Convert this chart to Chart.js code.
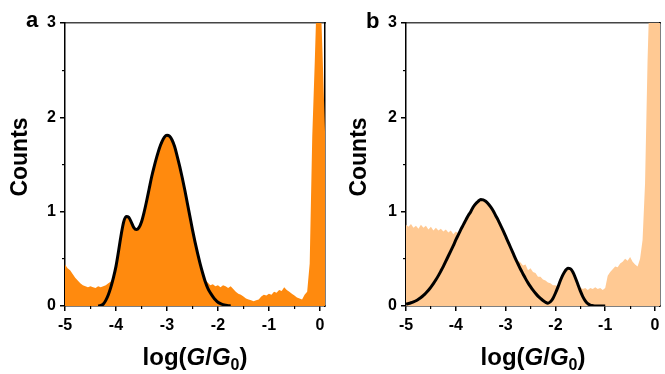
<!DOCTYPE html>
<html>
<head>
<meta charset="utf-8">
<script src="https://cdn.jsdelivr.net/npm/chart.js@4.4.1/dist/chart.umd.min.js"></script>
<style>
  html, body { margin: 0; padding: 0; background: #fff; }
  body { width: 665px; height: 374px; position: relative; overflow: hidden; }
  .panel { position: absolute; top: 0; height: 374px; }
  #wa { left: 0; width: 333px; }
  #wb { left: 333px; width: 332px; }
</style>
</head>
<body>
<div class="panel" id="wa"><canvas id="ca" width="333" height="374"></canvas></div>
<div class="panel" id="wb"><canvas id="cb" width="332" height="374"></canvas></div>
<script>
// Histogram bin positions, log(G/G0)
const logG = [
  -5.00,-4.95,-4.90,-4.85,-4.80,-4.75,-4.70,-4.65,-4.60,-4.55,
  -4.50,-4.45,-4.40,-4.35,-4.30,-4.25,-4.20,-4.15,-4.10,-4.05,
  -4.00,-3.95,-3.90,-3.85,-3.80,-3.75,-3.70,-3.65,-3.60,-3.55,
  -3.50,-3.45,-3.40,-3.35,-3.30,-3.25,-3.20,-3.15,-3.10,-3.05,
  -3.00,-2.95,-2.90,-2.85,-2.80,-2.75,-2.70,-2.65,-2.60,-2.55,
  -2.50,-2.45,-2.40,-2.35,-2.30,-2.25,-2.20,-2.15,-2.10,-2.05,
  -2.00,-1.95,-1.90,-1.85,-1.80,-1.75,-1.70,-1.65,-1.60,-1.55,
  -1.50,-1.45,-1.40,-1.35,-1.30,-1.25,-1.20,-1.15,-1.10,-1.05,
  -1.00,-0.95,-0.90,-0.85,-0.80,-0.75,-0.70,-0.65,-0.60,-0.55,
  -0.50,-0.45,-0.40,-0.35,-0.30,-0.25,-0.20,-0.15,-0.10,-0.05,
   0.00, 0.05, 0.10
];

// Panel a: histogram counts
const histA = [
  0.44,0.40,0.38,0.34,0.30,0.27,0.24,0.22,0.21,0.20,
  0.21,0.20,0.19,0.21,0.20,0.21,0.22,0.24,0.26,0.30,
  0.38,0.55,0.72,0.85,0.90,0.89,0.84,0.79,0.77,0.79,
  0.85,0.95,1.07,1.20,1.33,1.44,1.54,1.63,1.70,1.75,
  1.77,1.76,1.73,1.66,1.57,1.46,1.34,1.20,1.06,0.92,
  0.78,0.65,0.53,0.42,0.33,0.27,0.25,0.22,0.23,0.21,
  0.22,0.20,0.22,0.21,0.19,0.21,0.18,0.15,0.13,0.12,
  0.10,0.08,0.07,0.06,0.05,0.06,0.07,0.10,0.12,0.11,
  0.13,0.12,0.15,0.14,0.17,0.16,0.20,0.17,0.15,0.13,
  0.11,0.09,0.08,0.07,0.12,0.15,0.45,1.80,2.60,3.50,
  3.50,2.70,1.85
];

// Panel b: histogram counts
const histB = [
  0.86,0.84,0.87,0.83,0.85,0.82,0.86,0.83,0.85,0.81,
  0.84,0.80,0.83,0.80,0.82,0.79,0.81,0.78,0.80,0.76,
  0.79,0.77,0.78,0.82,0.87,0.92,0.97,1.01,1.05,1.07,
  1.09,1.08,1.07,1.05,1.02,0.98,0.93,0.88,0.83,0.77,
  0.72,0.67,0.62,0.56,0.52,0.48,0.46,0.43,0.44,0.38,
  0.40,0.36,0.35,0.31,0.31,0.28,0.27,0.25,0.24,0.22,
  0.22,0.21,0.22,0.20,0.21,0.19,0.20,0.19,0.20,0.18,
  0.20,0.18,0.19,0.17,0.19,0.18,0.20,0.18,0.19,0.17,
  0.19,0.32,0.36,0.39,0.42,0.41,0.45,0.47,0.50,0.48,
  0.52,0.47,0.44,0.42,0.50,0.70,1.30,2.60,3.50,3.50,
  3.50,3.50,3.50
];

// Panel a: fitted curve, log(G/G0) from -4.35 to -1.75
const fitAx = logG.slice(13, 66);
const fitAy = [
  0.00,0.005,0.02,0.06,0.12,0.20,0.30,0.42,
  0.58,0.75,0.89,0.95,0.94,0.89,0.83,0.81,0.83,0.89,
  0.99,1.11,1.24,1.37,1.48,1.58,1.67,1.74,1.79,1.81,
  1.80,1.76,1.69,1.59,1.48,1.36,1.23,1.09,0.95,0.81,
  0.68,0.56,0.45,0.35,0.26,0.19,0.14,0.10,0.065,0.04,
  0.025,0.015,0.008,0.004,0.00
];

// Panel b: fitted curve, log(G/G0) from -5.00 to -1.00
const fitBx = logG.slice(0, 81);
const fitBy = [
  0.02,0.026,0.034,0.044,0.056,0.072,0.09,0.112,0.138,0.167,
  0.20,0.237,0.278,0.322,0.37,0.42,0.475,0.53,0.585,0.64,
  0.70,0.755,0.81,0.86,0.91,0.96,1.00,1.05,1.085,1.11,
  1.13,1.125,1.11,1.085,1.05,1.01,0.96,0.91,0.855,0.80,
  0.74,0.68,0.62,0.56,0.50,0.445,0.39,0.34,0.29,0.245,
  0.205,0.168,0.135,0.105,0.08,0.058,0.04,0.03,0.045,0.08,
  0.135,0.20,0.27,0.33,0.375,0.40,0.395,0.36,0.30,0.23,
  0.16,0.10,0.055,0.025,0.01,0.004,0.0,0.0,0.0,0.0,
  0.0
];

// Axis ticks
const xMajor = [-5, -4, -3, -2, -1, 0];
const yMajor = [0, 1, 2, 3];
const xMinor = [-4.5, -3.5, -2.5, -1.5, -0.5];
const yMinor = [0.5, 1.5, 2.5];

const FONT = '"Liberation Sans", Arial, sans-serif';
const COLOR_A = '#FF8A0E';
const COLOR_B = '#FFC993';

const decorPlugin = {
  id: 'decor',
  afterDraw(chart, args, opts) {
    const ctx = chart.ctx;
    const xs = chart.scales.x;
    const left = xs.left, right = xs.right;
    ctx.save();
    ctx.fillStyle = '#000';
    // y axis title
    ctx.save();
    ctx.translate(opts.yTitleX, 157);
    ctx.rotate(-Math.PI / 2);
    ctx.font = 'bold 23px ' + FONT;
    ctx.textAlign = 'center';
    ctx.textBaseline = 'middle';
    ctx.fillText('Counts', 0, 0);
    ctx.restore();
    // x axis title with italic G and subscript 0
    const big = 'bold 24px ' + FONT;
    const bigI = 'italic bold 24px ' + FONT;
    const small = 'bold 16px ' + FONT;
    const parts = [['log(', big, 0], ['G', bigI, 0], ['/', big, 0], ['G', bigI, 0], ['0', small, 5], [')', big, 0]];
    let total = 0;
    parts.forEach(p => { ctx.font = p[1]; p.w = ctx.measureText(p[0]).width; total += p.w; });
    let x = (left + right) / 2 - total / 2;
    ctx.textAlign = 'left';
    ctx.textBaseline = 'alphabetic';
    parts.forEach(p => { ctx.font = p[1]; ctx.fillText(p[0], x, opts.titleY + p[2]); x += p.w; });
    // panel letter
    ctx.font = 'bold 22px ' + FONT;
    ctx.fillText(opts.letter, opts.lx, opts.ly);
    ctx.restore();
  }
};

function makeChart(id, hist, fitX, fitY, color, yWidth, padRight, yTitleX, letter, lx, ly) {
  const tickFont = { family: FONT, size: 16, weight: 'bold' };
  return new Chart(document.getElementById(id), {
    type: 'line',
    data: {
      datasets: [
        {
          label: 'fit',
          data: fitX.map((x, i) => ({ x: x, y: fitY[i] })),
          borderColor: '#000',
          borderWidth: 3,
          backgroundColor: color,
          fill: 'origin',
          pointRadius: 0,
          cubicInterpolationMode: 'monotone'
        },
        {
          label: 'histogram',
          data: logG.map((x, i) => ({ x: x, y: hist[i] })),
          borderWidth: 0,
          borderColor: 'rgba(0,0,0,0)',
          backgroundColor: color,
          fill: 'origin',
          pointRadius: 0,
          tension: 0,
          clip: 0
        }
      ]
    },
    options: {
      responsive: false,
      animation: false,
      events: [],
      layout: { padding: { left: 0, right: padRight, top: 23, bottom: 0 } },
      plugins: {
        legend: { display: false },
        tooltip: { enabled: false },
        decor: { letter: letter, lx: lx, ly: ly, titleY: 365, yTitleX: yTitleX }
      },
      scales: {
        x: {
          type: 'linear',
          min: -5,
          max: 0.1,
          afterFit: s => { s.height = 68; },
          afterBuildTicks: s => { s.ticks = xMajor.map(v => ({ value: v })); },
          ticks: { font: tickFont, color: '#000', padding: 5, maxRotation: 0,
                   callback: v => String(v) },
          grid: { drawOnChartArea: false, drawTicks: true, tickLength: 5, color: '#000', lineWidth: 1.5 },
          border: { display: true, color: '#000', width: 1.5 }
        },
        xMinorAxis: {
          type: 'linear',
          position: { y: 0 },
          min: -5,
          max: 0.1,
          afterFit: s => { s.height = 0; },
          afterBuildTicks: s => { s.ticks = xMinor.map(v => ({ value: v })); },
          ticks: { display: false },
          grid: { drawOnChartArea: false, drawTicks: true, tickLength: 3, color: '#000', lineWidth: 1.2 },
          border: { display: false }
        },
        xTop: {
          type: 'linear',
          position: 'top',
          min: -5,
          max: 0.1,
          afterFit: s => { s.height = 0; },
          ticks: { display: false },
          grid: { display: false, drawTicks: false },
          border: { display: true, color: '#444', width: 1.5 }
        },
        y: {
          min: 0,
          max: 3,
          afterFit: s => { s.width = yWidth; },
          afterBuildTicks: s => { s.ticks = yMajor.map(v => ({ value: v })); },
          ticks: { font: tickFont, color: '#000', padding: 4, callback: v => String(v) },
          grid: { drawOnChartArea: false, drawTicks: true, tickLength: 5, color: '#000', lineWidth: 1.5 },
          border: { display: true, color: '#000', width: 1.5 },
          title: { display: false }
        },
        yMinorAxis: {
          type: 'linear',
          position: { x: -5 },
          min: 0,
          max: 3,
          afterFit: s => { s.width = 0; },
          afterBuildTicks: s => { s.ticks = yMinor.map(v => ({ value: v })); },
          ticks: { display: false },
          grid: { drawOnChartArea: false, drawTicks: true, tickLength: 3, color: '#000', lineWidth: 1.2 },
          border: { display: false }
        },
        yRight: {
          type: 'linear',
          position: 'right',
          min: 0,
          max: 3,
          afterFit: s => { s.width = 0; },
          ticks: { display: false },
          grid: { display: false, drawTicks: false },
          border: { display: true, color: '#000', width: 1.5 }
        }
      }
    },
    plugins: [decorPlugin]
  });
}

makeChart('ca', histA, fitAx, fitAy, COLOR_A, 65, 8, 21, 'a', 26, 27);
makeChart('cb', histB, fitBx, fitBy, COLOR_B, 73, 5, 27, 'b', 33, 28);
</script>
</body>
</html>
